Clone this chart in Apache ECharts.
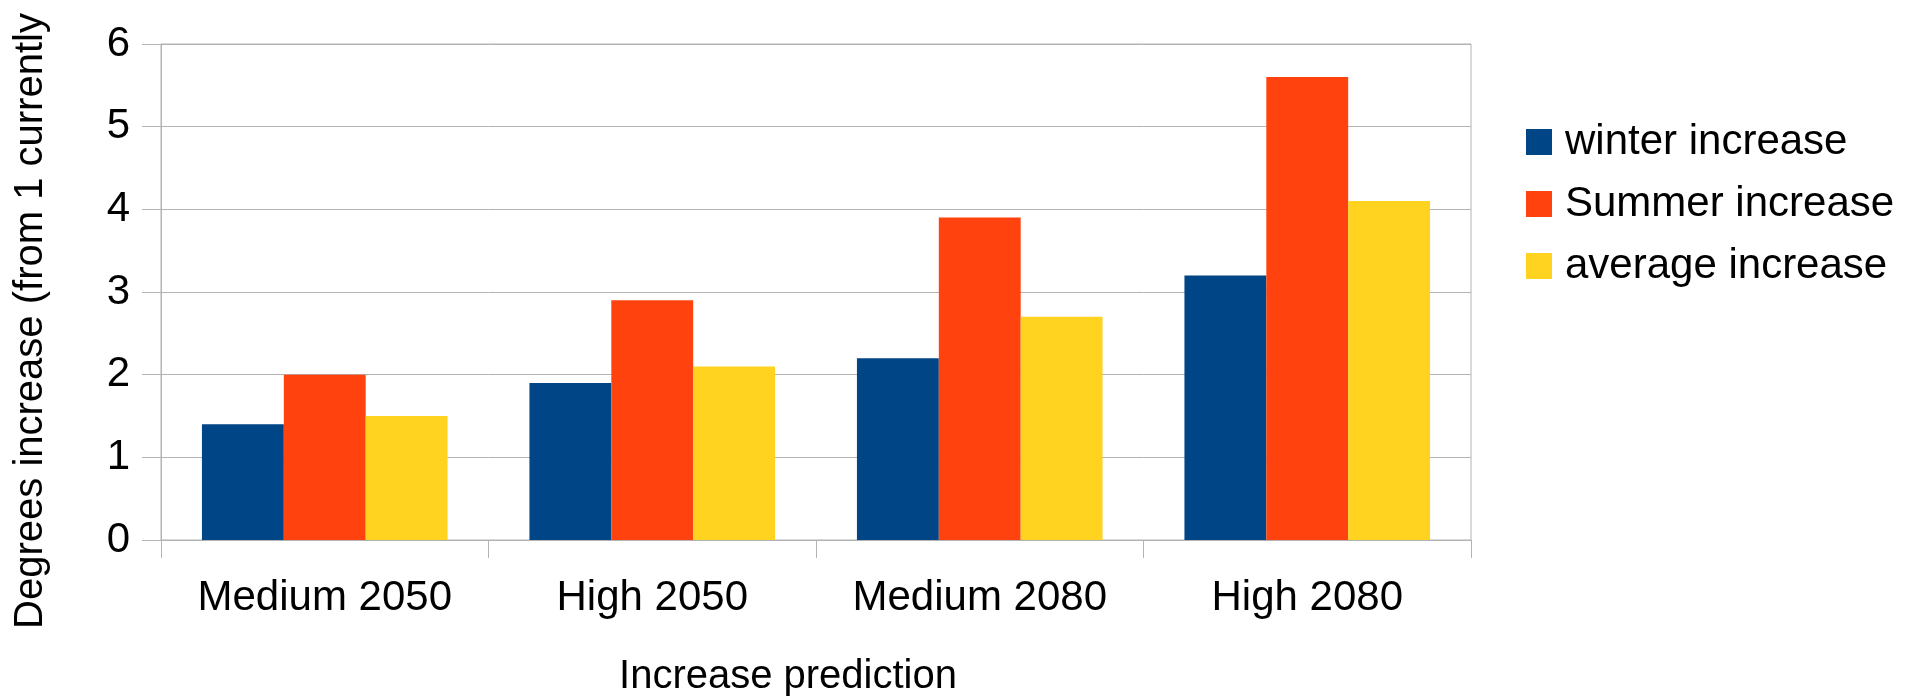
<!DOCTYPE html>
<html>
<head>
<meta charset="utf-8">
<title>Degrees increase by prediction</title>
<script src="https://cdn.jsdelivr.net/npm/echarts@6/dist/echarts.min.js"></script>
<style>
  html, body { margin: 0; padding: 0; background: #ffffff; }
  #chart { width: 1928px; height: 699px; }
</style>
</head>
<body>
<div id="chart"></div>
<script>
// Prediction scenarios along the x axis
const categories = ['Medium 2050', 'High 2050', 'Medium 2080', 'High 2080'];

// Degrees of increase per scenario
const winterIncrease = [1.4, 1.9, 2.2, 3.2];
const summerIncrease = [2.0, 2.9, 3.9, 5.6];
const averageIncrease = [1.5, 2.1, 2.7, 4.1];

const seriesNames = ['winter increase', 'Summer increase', 'average increase'];
const yTicks = [0, 1, 2, 3, 4, 5, 6];

const xTitle = 'Increase prediction';
const yTitle = 'Degrees increase (from 1 currently';

const FONT = '"Liberation Sans", Arial, sans-serif';
const GRID_COLOR = '#b3b3b3';

const chart = echarts.init(document.getElementById('chart'), null, { renderer: 'canvas' });

chart.setOption({
  animation: false,
  backgroundColor: '#ffffff',
  textStyle: { fontFamily: FONT, color: '#000000' },
  color: ['#004586', '#ff420e', '#ffd320'],
  grid: {
    left: 161,
    right: 457,
    top: 44,
    bottom: 159,
    show: true,
    borderColor: GRID_COLOR,
    borderWidth: 1,
    containLabel: false
  },
  legend: {
    orient: 'vertical',
    left: 1521,
    top: 116,
    itemWidth: 26,
    itemHeight: 26,
    itemGap: 20,
    icon: 'rect',
    data: seriesNames,
    textStyle: { fontFamily: FONT, fontSize: 42, color: '#000000', padding: [0, 0, 0, 8] }
  },
  xAxis: {
    type: 'category',
    data: categories,
    axisLine: { show: true, lineStyle: { color: GRID_COLOR, width: 1 } },
    axisTick: { show: true, interval: 0, length: 18, lineStyle: { color: GRID_COLOR } },
    axisLabel: { interval: 0, fontFamily: FONT, fontSize: 42, color: '#000000', margin: 37 },
    splitLine: { show: false }
  },
  yAxis: {
    type: 'value',
    min: yTicks[0],
    max: yTicks[yTicks.length - 1],
    interval: 1,
    axisLine: { show: true, lineStyle: { color: GRID_COLOR, width: 1 } },
    axisTick: { show: true, length: 19, lineStyle: { color: GRID_COLOR } },
    axisLabel: { fontFamily: FONT, fontSize: 42, color: '#000000', margin: 31 },
    splitLine: { show: true, lineStyle: { color: GRID_COLOR, width: 1 } }
  },
  graphic: [
    {
      type: 'text',
      x: 788,
      y: 677,
      style: {
        text: xTitle,
        font: '40px ' + FONT,
        fill: '#000000',
        textAlign: 'center',
        textVerticalAlign: 'middle'
      }
    },
    {
      type: 'text',
      x: 31,
      y: 321,
      rotation: Math.PI / 2,
      style: {
        text: yTitle,
        font: '40px ' + FONT,
        fill: '#000000',
        textAlign: 'center',
        textVerticalAlign: 'middle'
      }
    }
  ],
  series: [
    {
      name: seriesNames[0],
      type: 'bar',
      data: winterIncrease,
      barGap: '0%',
      barCategoryGap: '25%'
    },
    {
      name: seriesNames[1],
      type: 'bar',
      data: summerIncrease,
      barGap: '0%',
      barCategoryGap: '25%'
    },
    {
      name: seriesNames[2],
      type: 'bar',
      data: averageIncrease,
      barGap: '0%',
      barCategoryGap: '25%'
    }
  ]
});
</script>
</body>
</html>
